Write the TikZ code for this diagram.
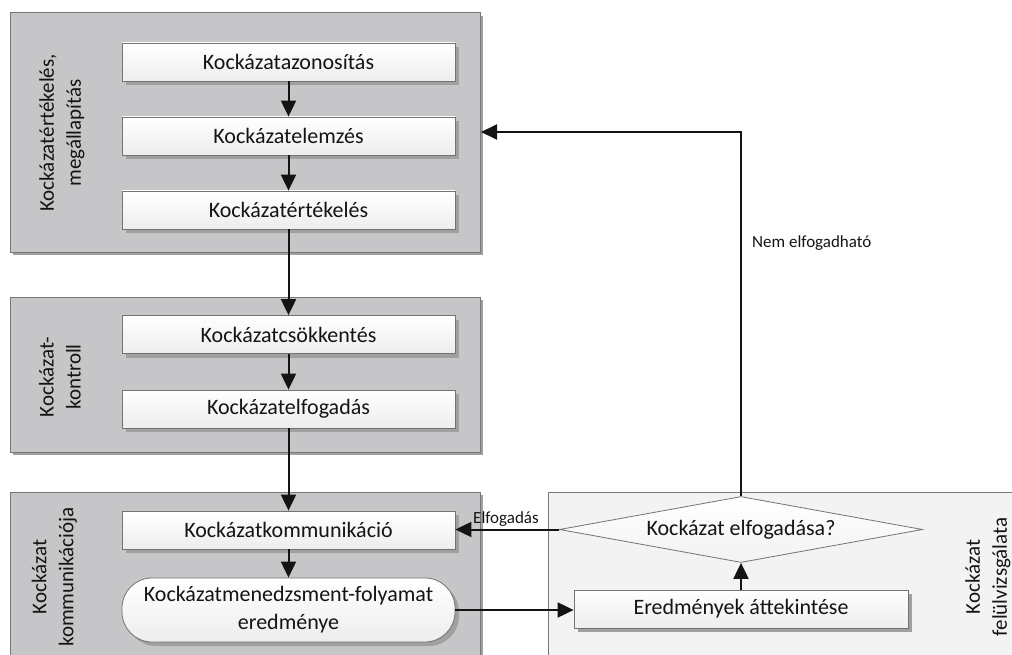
\documentclass[tikz,border=0pt]{standalone}
\usepackage{fontspec}
\setmainfont{Carlito}
\usetikzlibrary{shapes.geometric,arrows.meta,shadows}
\definecolor{grpfill}{RGB}{198,198,200}
\definecolor{grpfillb}{RGB}{243,243,243}
\definecolor{grpline}{RGB}{120,120,120}
\definecolor{boxline}{RGB}{115,115,115}
\definecolor{shad}{RGB}{160,160,160}
\definecolor{ink}{RGB}{20,20,20}
\begin{document}
\begin{tikzpicture}[x=1pt,y=-1pt,
  grp/.style={draw=grpline, line width=1pt, fill=grpfill, inner sep=0pt,
    drop shadow={shadow xshift=3pt, shadow yshift=-3pt, fill=shad, opacity=1}},
  grpb/.style={grp, fill=grpfillb},
  stepbox/.style={draw=boxline, line width=0.8pt, top color=white, bottom color=gray!14,
    minimum width=333pt, minimum height=38pt, inner sep=0pt, text=ink,
    font=\fontsize{22}{28}\selectfont,
    drop shadow={shadow xshift=4pt, shadow yshift=-4pt, fill=shad, opacity=1}},
  rbox/.style={stepbox, rounded corners=30pt, minimum height=64pt, align=center},
  dia/.style={diamond, aspect=5.5, draw=boxline, line width=0.8pt, top color=white, bottom color=gray!10,
    minimum width=363pt, minimum height=66pt, inner sep=0pt, text=ink,
    font=\fontsize{22}{28}\selectfont},
  glabel/.style={rotate=90, align=center, text=ink, font=\fontsize{21}{27}\selectfont},
  lab/.style={text=ink, font=\fontsize{17}{20}\selectfont, inner sep=0pt},
  arr/.style={draw=ink, line width=2pt, -{Triangle[length=16pt,width=15pt]}}
]
\useasboundingbox (0,0) rectangle (1012,655);
\clip (0,0) rectangle (1012,655);

% groups
\node[grp, minimum width=470pt, minimum height=239pt] (g1) at (245,132.5) {};
\node[grp, minimum width=470pt, minimum height=155pt] (g2) at (245,374.5) {};
\node[grp, minimum width=470pt, minimum height=220pt] (g3) at (245,602) {};
\node[grpb, minimum width=490pt, minimum height=220pt] (g4) at (793,602) {};

% group labels
\node[glabel] (l1) at (62,133) {Kockázatértékelés,\\megállapítás};
\node[glabel] (l2) at (60,377) {Kockázat-\\kontroll};
\node[glabel] (l3) at (54.5,577) {Kockázat\\kommunikációja};
\node[glabel] (l4) at (988,577) {Kockázat\\felülvizsgálata};

% steps
\node[stepbox] (b1) at (288.5,62) {Kockázatazonosítás};
\node[stepbox] (b2) at (288.5,136) {Kockázatelemzés};
\node[stepbox] (b3) at (288.5,210) {Kockázatértékelés};
\node[stepbox] (b4) at (288.5,334.5) {Kockázatcsökkentés};
\node[stepbox] (b5) at (288.5,409) {Kockázatelfogadás};
\node[stepbox] (b6) at (288.5,530) {Kockázatkommunikáció};
\node[rbox] (r) at (288.5,610) {Kockázatmenedzsment-folyamat\\eredménye};
\node[stepbox, minimum width=334pt] (e) at (741,609) {Eredmények áttekintése};
\node[dia] (d) at (741,529.5) {Kockázat elfogadása?};

\coordinate (g1in) at (481,132);

% connectors
\draw[arr] (b1) -- (b2);
\draw[arr] (b2) -- (b3);
\draw[arr] (b3) -- (b4);
\draw[arr] (b4) -- (b5);
\draw[arr] (b5) -- (b6);
\draw[arr] (b6) -- (r);
\draw[arr] (r.east) -- (r.east -| e.west);
\draw[arr] (e) -- (d);
\draw[arr] (d.west) -- (d.west -| b6.east);
\draw[arr] (d.north) |- (g1in);

\node[lab, anchor=west] (nem) at (752,243) {Nem elfogadható};
\node[lab, anchor=west] (elf) at (473,519) {Elfogadás};
\end{tikzpicture}
\end{document}
